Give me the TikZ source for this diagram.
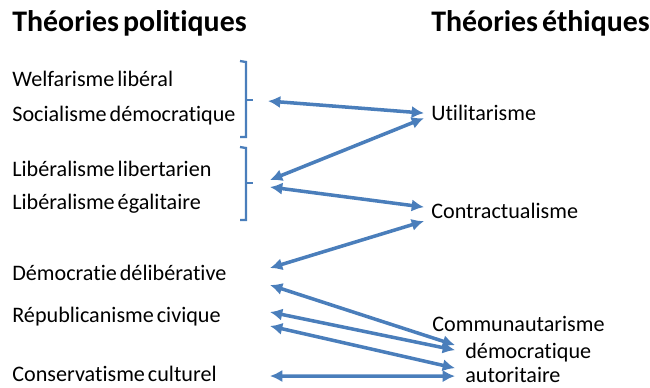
\documentclass[tikz,border=0pt]{standalone}
\usepackage{fontspec}
\setmainfont{Carlito}[Ligatures=NoCommon,WordSpace=0.6]
\usetikzlibrary{arrows.meta}
\definecolor{arrowblue}{RGB}{74,126,187}

\begin{document}
\begin{tikzpicture}[x=0.02cm,y=-0.02cm,
        head/.style={anchor=base west,inner sep=0pt,font=\fontsize{17}{20}\selectfont\bfseries},
        item/.style={anchor=base west,inner sep=0pt,text height=9pt,text depth=0pt,font=\fontsize{12.6}{15}\selectfont},
        link/.style={{Latex[length=7pt,width=7pt]}-{Latex[length=7pt,width=7pt]},arrowblue,line width=2pt},
        brk/.style={arrowblue,line width=1.3pt}]
                \useasboundingbox (0,0) rectangle (650,387);

                \node[head] (pol) at (12,31) {Théories politiques};
                \node[head] (eth) at (431,31) {Théories éthiques};

                \foreach \n/\y/\t in {welf/86/Welfarisme libéral, soc/121/Socialisme démocratique,
                    libert/176/Libéralisme libertarien, egal/209/Libéralisme égalitaire,
                    delib/280/Démocratie délibérative, repub/322/Républicanisme civique,
                    conserv/381/Conservatisme culturel}
                    \node[item] (\n) at (12,\y) {\t};

                \node[item] (util) at (431,120) {Utilitarisme};
                \node[item] (contract) at (431,218) {Contractualisme};
                \node[item] (commu) at (432,331) {Communautarisme};
                \node[item] (demo) at (465,358) {démocratique};
                \node[item] (auto) at (465,382) {autoritaire};

                % brackets
                \draw[brk] (240,61) -- (246,62) -- (246,137) -- (240,137);
                \draw[brk] (246,100) -- (253,100) coordinate (b1);
                \draw[brk] (240,147) -- (246,148) -- (246,220) -- (240,220);
                \draw[brk] (246,183) -- (253,183) coordinate (b2);

                \coordinate (pd) at (270,276);
                \coordinate (pr) at (270,319);
                \coordinate (pc) at (270,376);

                \draw[link] ([shift={(15,1)}]b1) -- ([shift={(-7,1)}]util.west);
                \draw[link] ([shift={(17,-3)}]b2) -- ([shift={(-7,6)}]util.west);
                \draw[link] ([shift={(17,4)}]b2) -- ([shift={(-7,-3)}]contract.west);
                \draw[link] ([shift={(0,-8)}]pd) -- ([shift={(-7,11)}]contract.west);
                \draw[link] ([shift={(0,9)}]pd) -- ([shift={(-10,-5)}]demo.west);
                \draw[link] ([shift={(0,-7)}]pr) -- ([shift={(-10,0)}]demo.west);
                \draw[link] ([shift={(0,7)}]pr) -- ([shift={(-10,-6)}]auto.west);
                \draw[link] (pc) -- ([shift={(-10,2)}]auto.west);

\end{tikzpicture}
\end{document}
